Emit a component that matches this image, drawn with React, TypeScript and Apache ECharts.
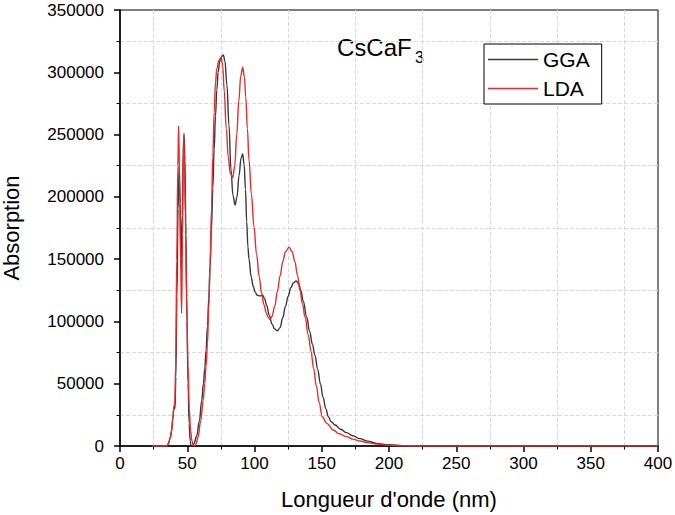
import React, { useEffect, useRef } from "react";
import * as echarts from "echarts";

const FONT = '"Liberation Sans", Arial, sans-serif';

const xTicks = [0, 50, 100, 150, 200, 250, 300, 350, 400];
const yTicks = [0, 50000, 100000, 150000, 200000, 250000, 300000, 350000];

const ggaWavelength = [
  24, 35, 36, 37.5, 38.4, 39.3, 40.1, 40.9, 41.5, 42.3, 43.2, 44, 44.8, 45.5, 46.3, 47, 47.6, 48.3, 49, 49.8,
  50.6, 51.4, 52.2, 52.8, 54, 55, 57, 59, 60.7, 62, 63, 64, 65, 66, 67, 68, 69, 70, 71, 72,
  73, 74, 75, 76.8, 78, 79.5, 81, 82.5, 84, 85.6, 87, 88.5, 90, 91.2, 92.3, 93.3, 94.2, 95.1, 95.9, 97.5,
  99.1, 100.5, 102, 104, 106, 107.5, 109, 111, 113, 115, 117, 119, 121, 123, 125, 127, 129, 131, 133, 134.5,
  136.3, 138.8, 141, 143, 145, 147, 149, 151, 153, 154.9, 157, 159.9, 164, 168.5, 173, 178.4, 184, 190.8, 200, 210,
  222, 400,
];
const ggaAbsorption = [
  0, 0, 2000, 7000, 12000, 22000, 31500, 30000, 55000, 120000, 190000, 225000, 195000, 141000, 185000, 235000, 251000, 230000, 170000, 100000,
  50000, 18000, 4000, 0, 500, 2000, 8000, 20000, 36000, 50000, 62000, 77000, 96000, 118000, 144000, 174000, 207000, 238000, 265000, 286000,
  300000, 308000, 312000, 314000, 309000, 290000, 258000, 222000, 201000, 193500, 200000, 217000, 231000, 234500, 226000, 206000, 180000, 160000, 150000, 136000,
  128000, 123500, 121000, 120500, 121000, 118500, 113000, 105000, 98000, 94000, 92500, 95000, 103000, 112000, 120000, 127000, 131000, 132500, 130000, 124500,
  116000, 103500, 92000, 82000, 72500, 61500, 50000, 39000, 30000, 23500, 19500, 16900, 13500, 10700, 8200, 5900, 3900, 2100, 1000, 300,
  0, 0,
];

const ldaWavelength = [
  24, 35, 36, 37.5, 38.4, 39.3, 40.1, 40.8, 41.4, 42.2, 43, 43.6, 44.3, 45, 45.8, 46.5, 47.2, 47.8, 48.6, 49.5,
  50.5, 51.5, 52.5, 53.5, 54.5, 55.3, 56.5, 58, 60, 61.9, 63, 64, 65, 66, 67, 68, 69, 70, 71, 72,
  73.5, 75.1, 76.3, 77.5, 79, 80.5, 82, 83.8, 85.3, 86.8, 88.3, 89.8, 91.2, 92.5, 93.5, 94.7, 95.9, 97.7, 99.6, 101.5,
  103.5, 105.3, 107, 108.7, 110, 111.5, 113, 115, 117, 119, 121, 123, 125.7, 128, 130, 132, 133.8, 135.7, 137.5, 140,
  142, 144, 146, 148, 150.4, 153.7, 158.6, 163, 168.5, 173, 178.4, 184, 190.8, 200, 210, 218, 400,
];
const ldaAbsorption = [
  0, 0, 2000, 7000, 12800, 23000, 31000, 36000, 65000, 150000, 225000, 257000, 215000, 150000, 106500, 170000, 248000, 238000, 185000, 120000,
  65000, 30000, 12000, 4000, 800, 0, 1500, 7000, 20000, 37000, 50000, 64000, 82000, 110000, 148000, 190000, 232000, 268000, 292000, 303000,
  309500, 312000, 306000, 285000, 255000, 232000, 219000, 215500, 225000, 250000, 277000, 297000, 304000, 296000, 280000, 255000, 229600, 202000, 176000, 154000,
  136000, 122600, 113500, 107000, 103500, 101500, 104000, 112000, 124000, 136500, 148000, 156000, 159500, 156000, 148000, 137000, 125000, 114000, 103800, 89000,
  76000, 62000, 48000, 35000, 23500, 18200, 12800, 9800, 7500, 5500, 4000, 2700, 1600, 700, 150, 0, 0,
];

const seriesNames = ["GGA", "LDA"];
const seriesColors = ["#383838", "#ec2a2a"];

export default function App() {
  const ref = useRef<HTMLDivElement>(null);
  useEffect(() => {
    const chart = echarts.init(ref.current!, null, { renderer: "svg" });
    const gga = ggaWavelength.map((x, i) => [x, ggaAbsorption[i]]);
    const lda = ldaWavelength.map((x, i) => [x, ldaAbsorption[i]]);
    const axisCommon = {
      type: "value" as const,
      axisLine: { show: true, onZero: false, lineStyle: { color: "#000", width: 1.5 } },
      axisTick: { show: true, inside: false, length: 6, lineStyle: { color: "#000", width: 1.5 } },
      minorTick: { show: true, splitNumber: 2, length: 3.5, lineStyle: { color: "#000", width: 1 } },
      splitLine: { show: false },
      minorSplitLine: { show: true, lineStyle: { color: "#d9d9d9", type: "dashed", width: 1 } },
      nameLocation: "middle" as const,
      nameTextStyle: { fontSize: 22, color: "#000", fontFamily: FONT },
    };
    chart.setOption({
      animation: false,
      backgroundColor: "#fff",
      textStyle: { fontFamily: FONT },
      grid: {
        left: 120, right: 17, top: 10, bottom: 69, show: true, borderColor: "#000", borderWidth: 1,
        backgroundColor: "transparent", outerBoundsMode: "none", containLabel: false,
      },
      xAxis: {
        ...axisCommon,
        min: xTicks[0],
        max: xTicks[xTicks.length - 1],
        interval: xTicks[1] - xTicks[0],
        axisLabel: { fontSize: 17, color: "#000", margin: 9, fontFamily: FONT, formatter: (v: number) => String(v) },
        name: "Longueur d'onde (nm)",
        nameGap: 42,
      },
      yAxis: {
        ...axisCommon,
        min: yTicks[0],
        max: yTicks[yTicks.length - 1],
        interval: yTicks[1] - yTicks[0],
        axisLabel: { fontSize: 17, color: "#000", margin: 16, fontFamily: FONT, formatter: (v: number) => String(v) },
        name: "Absorption",
        nameGap: 98,
      },
      legend: {
        data: seriesNames,
        orient: "vertical",
        left: 484,
        top: 44,
        padding: [5, 12, 5, 4],
        itemGap: 8,
        itemWidth: 50,
        itemHeight: 1.5,
        icon: "rect",
        borderColor: "#000",
        borderWidth: 1,
        backgroundColor: "#fff",
        textStyle: { fontSize: 21, color: "#000", fontFamily: FONT },
      },
      graphic: [
        { type: "text", left: 337, top: 35, style: { text: "CsCaF", fontSize: 24, fill: "#000", fontFamily: FONT } },
        { type: "text", left: 415, top: 49, style: { text: "3", fontSize: 16, fill: "#000", fontFamily: FONT } },
      ],
      series: [
        {
          name: seriesNames[0], type: "line", data: gga, symbol: "none", smooth: 0.4, smoothMonotone: "x",
          lineStyle: { color: seriesColors[0], width: 1.4 }, itemStyle: { color: seriesColors[0] },
        },
        {
          name: seriesNames[1], type: "line", data: lda, symbol: "none", smooth: 0.4, smoothMonotone: "x",
          lineStyle: { color: seriesColors[1], width: 1.4 }, itemStyle: { color: seriesColors[1] },
        },
      ],
    });
    return () => chart.dispose();
  }, []);
  return <div ref={ref} style={{ position: "absolute", left: 0, top: 0, width: 675, height: 515 }} />;
}
